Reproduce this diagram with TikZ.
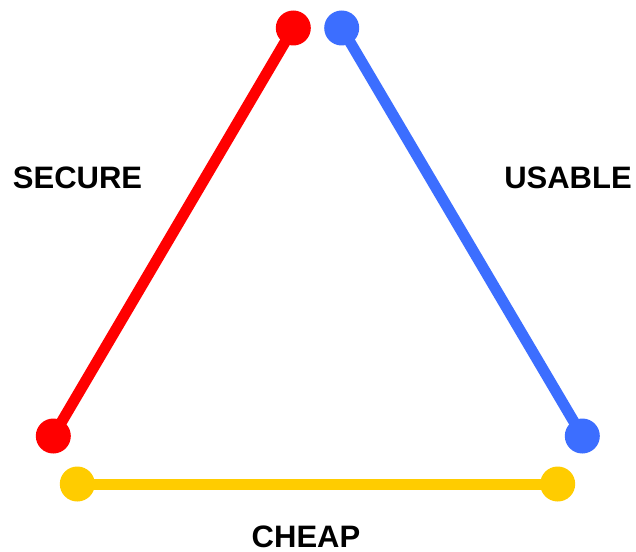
\documentclass[tikz,border=0pt]{standalone}
\usepackage{fontspec}
\setmainfont{Liberation Sans}
\definecolor{secred}{RGB}{255,0,0}
\definecolor{useblue}{RGB}{60,110,255}
\definecolor{cheapyellow}{RGB}{255,204,0}
\begin{document}
\begin{tikzpicture}[x=1pt,y=-1pt,
  edge/.style={line width=11pt},
  dot/.style={circle,inner sep=0pt,minimum size=35pt},
  label/.style={anchor=base,inner sep=0pt,font=\bfseries\fontsize{31}{31}\selectfont}]
\useasboundingbox[fill=white] (0,0) rectangle (636,551);
% end points of the three sides
\coordinate (s1) at (293.3,28);
\coordinate (s2) at (53.3,436);
\coordinate (u1) at (341.7,28);
\coordinate (u2) at (582.3,436);
\coordinate (c1) at (77.3,484);
\coordinate (c2) at (557.7,484);
% sides
\draw[edge,secred] (s1) -- (s2);
\draw[edge,useblue] (u1) -- (u2);
\draw[edge,cheapyellow] (c1) -- (c2);
% end dots
\node[dot,fill=secred] (ds1) at (s1) {};
\node[dot,fill=secred] (ds2) at (s2) {};
\node[dot,fill=useblue] (du1) at (u1) {};
\node[dot,fill=useblue] (du2) at (u2) {};
\node[dot,fill=cheapyellow] (dc1) at (c1) {};
\node[dot,fill=cheapyellow] (dc2) at (c2) {};
% labels
\node[label] (secure) at (77.5,188) {SECURE};
\node[label] (usable) at (568,188) {USABLE};
\node[label] (cheap) at (306,547) {CHEAP};
\end{tikzpicture}
\end{document}
